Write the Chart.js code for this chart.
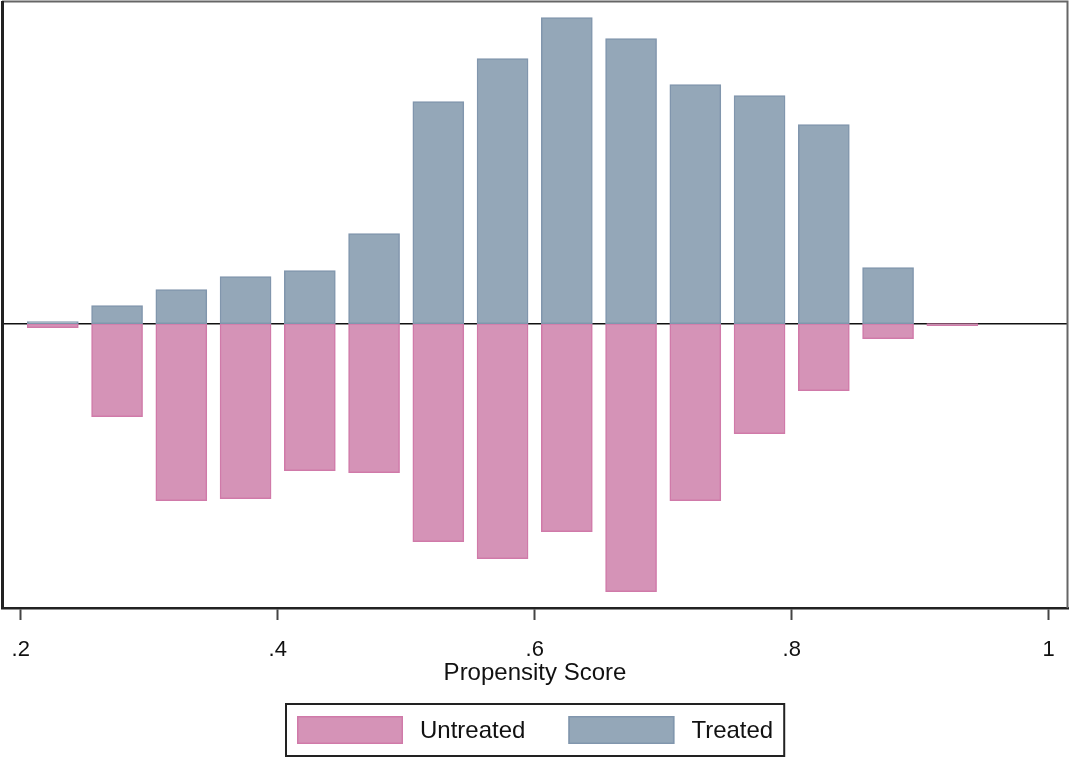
<!DOCTYPE html>
<html>
<head>
<meta charset="utf-8">
<title>Propensity score distribution</title>
<script src="https://cdn.jsdelivr.net/npm/chart.js@4.4.1/dist/chart.umd.min.js"></script>
<style>
  html, body { margin: 0; padding: 0; background: #fff; }
  #wrap { width: 1069px; height: 758px; position: relative; }
</style>
</head>
<body>
<div id="wrap"><canvas id="psChart"></canvas></div>
<script>
// bin centres of the propensity score histogram (bin width .05)
const binCenters = [0.225, 0.275, 0.325, 0.375, 0.425, 0.475, 0.525, 0.575,
                    0.625, 0.675, 0.725, 0.775, 0.825, 0.875, 0.925];
// densities (treated drawn up, untreated drawn down)
const treated = [0.02, 0.18, 0.34, 0.47, 0.53, 0.90, 2.22, 2.65,
                 3.06, 2.85, 2.39, 2.28, 1.99, 0.56, 0];
const untreated = [-0.04, -0.93, -1.77, -1.75, -1.47, -1.49, -2.18, -2.35,
                   -2.08, -2.68, -1.77, -1.10, -0.67, -0.15, -0.02];
const xTicks = [0.2, 0.4, 0.6, 0.8, 1];
const xTickLabels = ['.2', '.4', '.6', '.8', '1'];

const FONT = "'Liberation Sans', Arial, sans-serif";
const treatedFill = '#94a7b8', treatedLine = '#8196ad';
const untreatedFill = '#d593b7', untreatedLine = '#d07aa9';

// zero line under the bars
const zeroLine = {
    id: 'zeroLine',
    beforeDatasetsDraw(chart) {
        const {ctx, chartArea, scales} = chart;
        const y = scales.y.getPixelForValue(0);
        ctx.save();
        ctx.strokeStyle = '#111';
        ctx.lineWidth = 1.5;
        ctx.beginPath();
        ctx.moveTo(chartArea.left, y);
        ctx.lineTo(chartArea.right, y);
        ctx.stroke();
        ctx.restore();
    }
};

// Stata-like plot frame + boxed legend
const frameAndLegend = {
    id: 'frameAndLegend',
    afterDraw(chart) {
        const {ctx, chartArea} = chart;
        ctx.save();
        // frame
        ctx.strokeStyle = '#666';
        ctx.lineWidth = 2;
        ctx.beginPath();
        ctx.moveTo(chartArea.left, chartArea.top + 0.5);
        ctx.lineTo(chartArea.right - 0.5, chartArea.top + 0.5);
        ctx.lineTo(chartArea.right - 0.5, chartArea.bottom);
        ctx.stroke();
        ctx.strokeStyle = '#222';
        ctx.lineWidth = 3;
        ctx.beginPath();
        ctx.moveTo(chartArea.left + 0.5, chartArea.top);
        ctx.lineTo(chartArea.left + 0.5, chartArea.bottom + 1);
        ctx.stroke();

        // legend: Untreated first, then Treated
        const items = [chart.data.datasets[1], chart.data.datasets[0]];
        ctx.font = '24px ' + FONT;
        const swW = 106, swH = 28, gapText = 17, gapItem = 43, padX = 11, padY = 12;
        const widths = items.map(d => ctx.measureText(d.label).width);
        const inner = items.reduce((s, d, i) => s + swW + gapText + widths[i], 0) + gapItem * (items.length - 1);
        const boxW = inner + padX * 2, boxH = swH + padY * 2;
        const boxL = Math.round((chartArea.left + chartArea.right) / 2 - boxW / 2);
        const boxT = 704;
        ctx.strokeStyle = '#222';
        ctx.lineWidth = 2;
        ctx.strokeRect(boxL, boxT, boxW, boxH);
        let x = boxL + padX;
        items.forEach((d, i) => {
            ctx.fillStyle = d.backgroundColor;
            ctx.fillRect(x, boxT + padY, swW, swH);
            ctx.strokeStyle = d.borderColor;
            ctx.lineWidth = 1.5;
            ctx.strokeRect(x + 0.75, boxT + padY + 0.75, swW - 1.5, swH - 1.5);
            x += swW + gapText;
            ctx.fillStyle = '#111';
            ctx.textBaseline = 'middle';
            ctx.textAlign = 'left';
            ctx.fillText(d.label, x, boxT + padY + swH / 2 + 1);
            x += widths[i] + gapItem;
        });
        ctx.restore();
    }
};

const ctx = document.getElementById('psChart').getContext('2d');
new Chart(ctx, {
    type: 'bar',
    data: {
        datasets: [
            {
                label: 'Treated',
                data: binCenters.map((x, i) => ({x: x, y: treated[i]})),
                backgroundColor: treatedFill,
                borderColor: treatedLine,
                borderWidth: 1.5,
                borderSkipped: false,
                barThickness: 51,
                grouped: false
            },
            {
                label: 'Untreated',
                data: binCenters.map((x, i) => ({x: x, y: untreated[i]})),
                backgroundColor: untreatedFill,
                borderColor: untreatedLine,
                borderWidth: 1.5,
                borderSkipped: false,
                barThickness: 51,
                grouped: false
            }
        ]
    },
    options: {
        responsive: true,
        maintainAspectRatio: false,
        animation: false,
        layout: { padding: { left: 2, right: 1, top: 1, bottom: 73 } },
        plugins: {
            legend: { display: false },
            tooltip: { enabled: false }
        },
        scales: {
            x: {
                type: 'linear',
                offset: false,
                min: 0.18545,
                max: 1.01502,
                afterBuildTicks(scale) {
                    scale.ticks = xTicks.map(v => ({ value: v }));
                },
                // edge labels sit well inside the frame, no extra side padding
                afterFit(scale) {
                    scale.paddingLeft = 0;
                    scale.paddingRight = 0;
                },
                ticks: {
                    autoSkip: false,
                    maxRotation: 0,
                    padding: 19,
                    color: '#111',
                    font: { family: FONT, size: 22, lineHeight: 1 },
                    callback: (v) => xTickLabels[xTicks.indexOf(v)]
                },
                grid: {
                    offset: false,
                    drawOnChartArea: false,
                    drawTicks: true,
                    tickLength: 12,
                    tickColor: '#444',
                    tickWidth: 2
                },
                border: { display: true, color: '#222', width: 2.5 },
                title: {
                    display: true,
                    text: 'Propensity Score',
                    color: '#111',
                    font: { family: FONT, size: 24, lineHeight: 1 },
                    padding: { top: -19, bottom: 0 }
                }
            },
            y: {
                display: false,
                min: -2.843,
                max: 3.227
            }
        }
    },
    plugins: [zeroLine, frameAndLegend]
});
</script>
</body>
</html>
